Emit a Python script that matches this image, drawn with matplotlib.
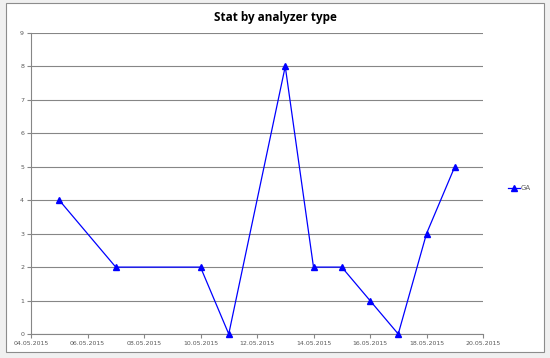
import matplotlib
matplotlib.use("Agg")
import matplotlib.pyplot as plt
import matplotlib.dates as mdates
from matplotlib.patches import Rectangle
import datetime as dt

dates = ["05.05.2015", "07.05.2015", "10.05.2015", "11.05.2015", "13.05.2015",
         "14.05.2015", "15.05.2015", "16.05.2015", "17.05.2015", "18.05.2015", "19.05.2015"]
values = [4, 2, 2, 0, 8, 2, 2, 1, 0, 3, 5]
series_name = "GA"
title = "Stat by analyzer type"

x = [dt.datetime.strptime(d, "%d.%m.%Y") for d in dates]

W, H = 550, 358
fig = plt.figure(figsize=(W / 100, H / 100), dpi=100)
fig.patch.set_facecolor("#f0f0f0")
bg = fig.add_axes([0, 0, 1, 1], zorder=-5)
bg.set_axis_off()
bg.set_xlim(0, W)
bg.set_ylim(H, 0)
bg.add_patch(Rectangle((6, 3), 538, 349, facecolor="white", edgecolor="#8c8c8c", linewidth=0.8))

ax = fig.add_axes([31 / W, 1 - 334 / H, (483 - 31) / W, (334 - 33) / H], zorder=2)
ax.set_facecolor("none")
line, = ax.plot(x, values, color="#0000ff", linewidth=0.9, marker="^",
                markersize=4, markerfacecolor="#0000ff", markeredgecolor="#0000ff",
                clip_on=False, zorder=3, label=series_name)

ax.set_ylim(0, 9)
ax.set_yticks(range(0, 10))
ax.set_xlim(dt.datetime(2015, 5, 4), dt.datetime(2015, 5, 20))
ax.set_xticks([dt.datetime(2015, 5, d) for d in range(4, 21, 2)])
ax.xaxis.set_major_formatter(mdates.DateFormatter("%d.%m.%Y"))

ax.yaxis.grid(True, color="#868686", linewidth=0.8)
ax.set_axisbelow(True)
for s in ["top", "right"]:
    ax.spines[s].set_visible(False)
for s in ["left", "bottom"]:
    ax.spines[s].set_color("#868686")
    ax.spines[s].set_linewidth(0.8)
ax.tick_params(axis="both", colors="#868686", labelcolor="#595959", labelsize=4.5,
               length=3, width=0.8, pad=2)

fig.text(275 / W, 1 - 17 / H, title, ha="center", va="center",
         fontsize=8.5, fontweight="bold", family="Open Sans", color="black")

fig.legend(handles=[line], labels=[series_name], loc="center left",
           bbox_to_anchor=(505 / W, 1 - 188 / H), frameon=False, fontsize=5,
           handlelength=1.6, handletextpad=0.2, borderpad=0, labelcolor="#595959")

fig.savefig("out.png", dpi=100)
